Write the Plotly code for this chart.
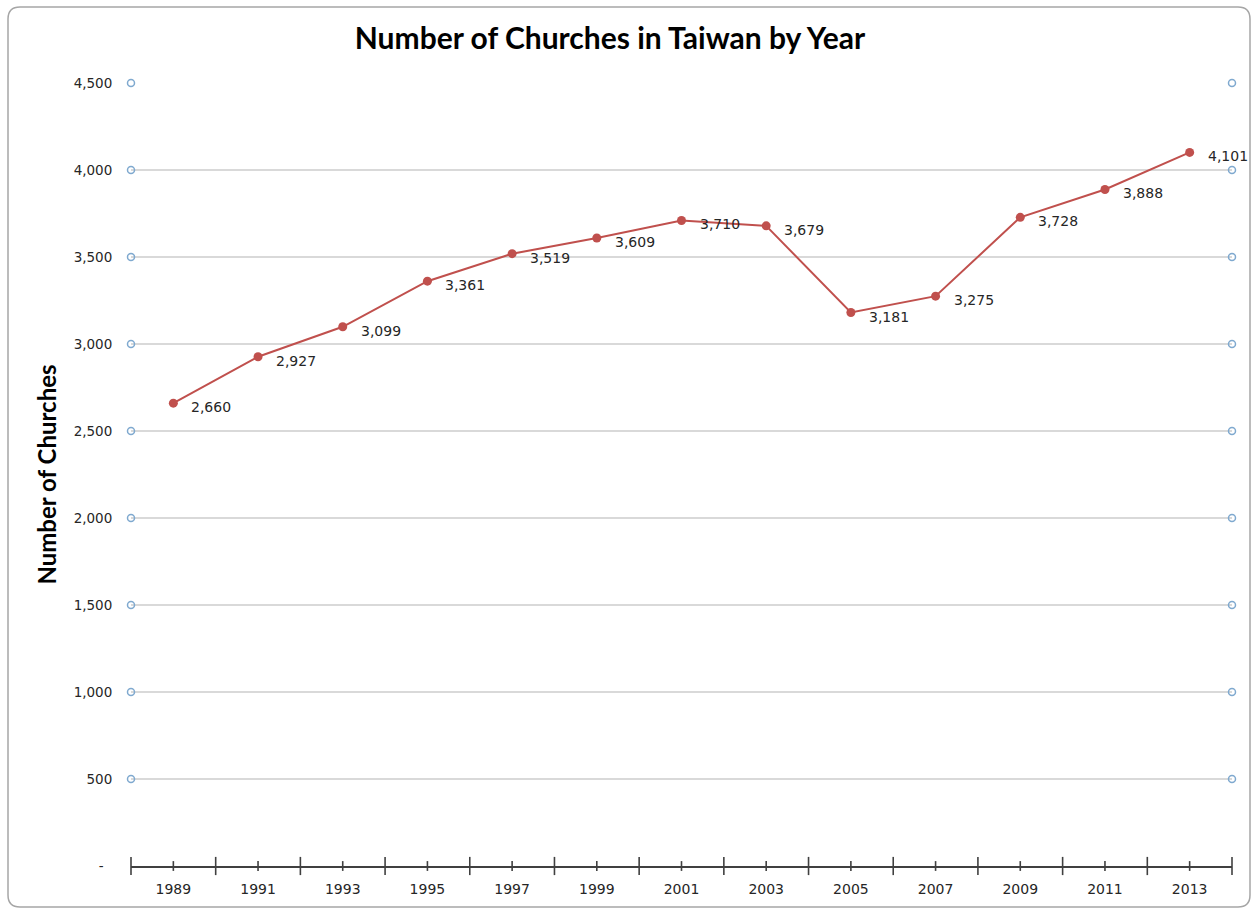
import plotly.graph_objects as go

# Church counts by year
years = ["1989", "1991", "1993", "1995", "1997", "1999", "2001",
         "2003", "2005", "2007", "2009", "2011", "2013"]
churches = [2660, 2927, 3099, 3361, 3519, 3609, 3710,
            3679, 3181, 3275, 3728, 3888, 4101]

y_ticks = [0, 500, 1000, 1500, 2000, 2500, 3000, 3500, 4000, 4500]
y_tick_text = ["-\u00a0\u00a0"] + [f"{v:,}" for v in y_ticks[1:]]

W, H = 1253, 910
L, R, T, B = 131, 21, 83, 44

LABEL_FONT = "DejaVu Sans"
TITLE_FONT = "Lato"

xs = list(range(len(years)))
n = len(years)

fig = go.Figure()

# open circles at both ends of each gridline
grid_vals = y_ticks[1:]
fig.add_trace(go.Scatter(
    x=[-0.5] * len(grid_vals) + [n - 0.5] * len(grid_vals),
    y=grid_vals + grid_vals,
    mode="markers",
    marker=dict(symbol="circle-open", size=7, color="#7fa9cf",
                line=dict(width=1.5, color="#7fa9cf")),
    hoverinfo="skip", showlegend=False, cliponaxis=False,
))

# crossing tick marks on the category axis
fig.add_trace(go.Scatter(
    x=[i - 0.5 for i in range(n + 1)], y=[0] * (n + 1),
    mode="markers",
    marker=dict(symbol="line-ns", size=13,
                line=dict(width=1.6, color="#404040")),
    hoverinfo="skip", showlegend=False, cliponaxis=False,
))
fig.add_trace(go.Scatter(
    x=xs, y=[0] * n,
    mode="markers",
    marker=dict(symbol="line-ns", size=7,
                line=dict(width=1.6, color="#404040")),
    hoverinfo="skip", showlegend=False, cliponaxis=False,
))

# main series
fig.add_trace(go.Scatter(
    x=xs, y=churches,
    mode="lines+markers",
    line=dict(color="#c0504d", width=2),
    marker=dict(color="#c0504d", size=9),
    showlegend=False, cliponaxis=False,
))

# value labels to the right of each point
for xi, v in zip(xs, churches):
    fig.add_annotation(
        x=xi, y=v, xref="x", yref="y", text=f"{v:,}",
        showarrow=False, xanchor="left", yanchor="middle",
        xshift=16, yshift=-4,
        font=dict(family=LABEL_FONT, size=14, color="#262626"),
    )

# rounded chart frame in paper coordinates
pw, ph = W - L - R, H - T - B
def px_x(p):
    return (p - L) / pw
def px_y(p):
    return (H - B - p) / ph
x0, x1, y0, y1, r = 8, 1250, 7, 907, 12
path = (
    f"M {px_x(x0 + r)},{px_y(y0)} L {px_x(x1 - r)},{px_y(y0)} "
    f"Q {px_x(x1)},{px_y(y0)} {px_x(x1)},{px_y(y0 + r)} "
    f"L {px_x(x1)},{px_y(y1 - r)} "
    f"Q {px_x(x1)},{px_y(y1)} {px_x(x1 - r)},{px_y(y1)} "
    f"L {px_x(x0 + r)},{px_y(y1)} "
    f"Q {px_x(x0)},{px_y(y1)} {px_x(x0)},{px_y(y1 - r)} "
    f"L {px_x(x0)},{px_y(y0 + r)} "
    f"Q {px_x(x0)},{px_y(y0)} {px_x(x0 + r)},{px_y(y0)} Z"
)
fig.add_shape(type="path", path=path, xref="paper", yref="paper",
              line=dict(color="#a6a6a6", width=1.5), layer="below")

fig.update_layout(
    width=W, height=H,
    margin=dict(l=L, r=R, t=T, b=B),
    paper_bgcolor="white", plot_bgcolor="white",
    title=dict(text="<b>Number of Churches in Taiwan by Year</b>",
               x=610 / W, xanchor="center", xref="container",
               y=1 - 38 / H, yanchor="middle",
               font=dict(family=TITLE_FONT, size=30, color="#000000")),
    xaxis=dict(
        range=[-0.5, n - 0.5], tickmode="array", tickvals=xs, ticktext=years,
        showgrid=False, zeroline=False,
        showline=True, linecolor="#404040", linewidth=2,
        ticks="outside", ticklen=9, tickcolor="rgba(0,0,0,0)",
        tickfont=dict(family=LABEL_FONT, size=14, color="#262626"),
    ),
    yaxis=dict(
        range=[0, 4500], tickmode="array", tickvals=y_ticks, ticktext=y_tick_text,
        showgrid=True, gridcolor="#d9d9d9", gridwidth=1.5,
        zeroline=False, showline=False,
        ticks="outside", ticklen=15, tickcolor="rgba(0,0,0,0)",
        tickfont=dict(family=LABEL_FONT, size=13.5, color="#262626"),
        title=dict(text="<b>Number of Churches</b>", standoff=10,
                   font=dict(family=TITLE_FONT, size=24, color="#000000")),
    ),
)

fig.write_html("out.html")
